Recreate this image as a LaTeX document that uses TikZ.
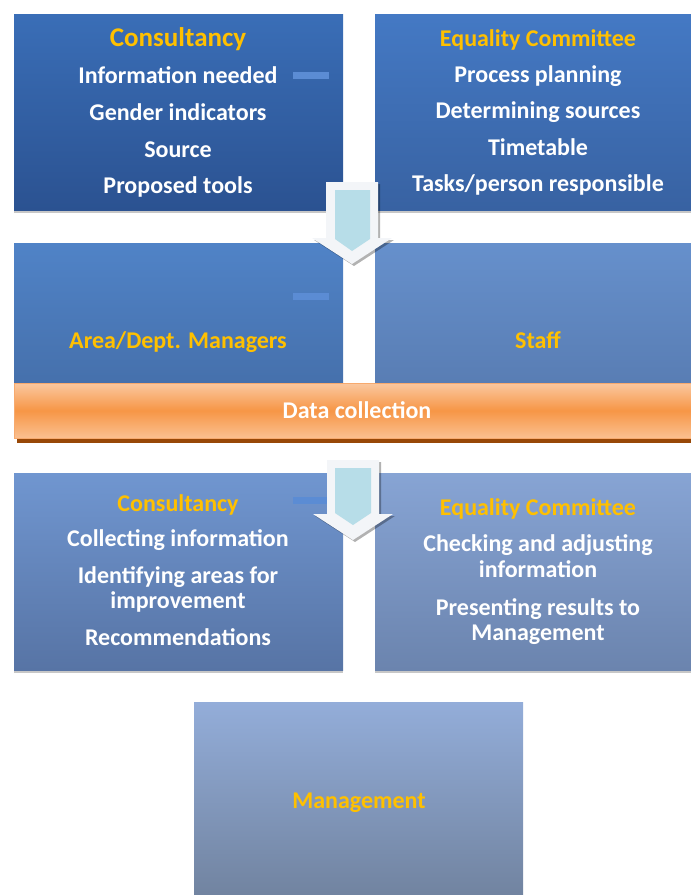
\documentclass[tikz,border=0pt]{standalone}
\usepackage{fontspec}
\setmainfont{Carlito}
\usetikzlibrary{shadows}
\definecolor{gold}{HTML}{FFC000}
\definecolor{dashblue}{HTML}{5B8CD4}
\definecolor{arrowfill}{HTML}{B7DDE8}
\definecolor{arrowrim}{HTML}{F3F5F8}
% panel gradients, top and bottom
\definecolor{pAt}{HTML}{3A6EB7}\definecolor{pAb}{HTML}{2B5291}
\definecolor{pBt}{HTML}{4479C4}\definecolor{pBb}{HTML}{3862A2}
\definecolor{pCt}{HTML}{5083C7}\definecolor{pCb}{HTML}{456FAA}
\definecolor{pDt}{HTML}{6690CC}\definecolor{pDb}{HTML}{587CB2}
\definecolor{pEt}{HTML}{7096D0}\definecolor{pEb}{HTML}{5774A5}
\definecolor{pFt}{HTML}{87A4D4}\definecolor{pFb}{HTML}{6B84AE}
\definecolor{pGt}{HTML}{93ADD9}\definecolor{pGb}{HTML}{70829E}
% orange band
\definecolor{barlight}{HTML}{FAC8A0}
\definecolor{barlow}{HTML}{FAC090}
\definecolor{barmid}{HTML}{F79646}
\definecolor{barrim}{HTML}{F7AA6E}
\definecolor{barbase}{HTML}{984807}
\begin{document}
\begin{tikzpicture}[x=1pt,y=-1pt,
  panel/.style={inner sep=0pt, draw=none,
    drop shadow={shadow xshift=0pt, shadow yshift=-3pt, opacity=0.22, fill=black}},
  line/.style={anchor=base, inner sep=0pt, text=white,
    font=\bfseries\fontsize{24}{27}\selectfont},
  head/.style={anchor=base, inner sep=0pt, text=gold,
    font=\bfseries\fontsize{24}{27}\selectfont},
  bigarrow/.style={fill=arrowrim, drop shadow={shadow xshift=2pt, shadow yshift=-2pt, opacity=0.3, fill=black}},
  arrowcore/.style={fill=arrowfill},
  stub/.style={fill=dashblue}]
\useasboundingbox (0,0) rectangle (691,895);
\clip (0,0) rectangle (691,895);

% --- first row: planning ---
\node[panel, top color=pAt, bottom color=pAb,
  minimum width=329pt, minimum height=196pt] (planC) at (178.5,112) {};
\node[panel, top color=pBt, bottom color=pBb,
  minimum width=325pt, minimum height=196pt] (planE) at (537.5,112) {};
\fill[stub] (293,72) rectangle (329,79);

\node[head, font=\bfseries\fontsize{27}{30}\selectfont] (c1) at (178,46.5) {Consultancy};
\node[line] (c2) at (178,83) {Information needed};
\node[line] (c3) at (178,120) {Gender indicators};
\node[line] (c4) at (178,157) {Source};
\node[line] (c5) at (178,193) {Proposed tools};

\node[head] (e1) at (538,46.5) {Equality Committee};
\node[line] (e2) at (538,82) {Process planning};
\node[line] (e3) at (538,118.5) {Determining sources};
\node[line] (e4) at (538,155) {Timetable};
\node[line] (e5) at (538,191) {Tasks/person responsible};

% --- second row: data collection ---
\node[panel, top color=pCt, bottom color=pCb,
  minimum width=329pt, minimum height=150pt] (mgr) at (178.5,318) {};
\node[panel, top color=pDt, bottom color=pDb,
  minimum width=325pt, minimum height=150pt] (staff) at (537.5,318) {};
\fill[stub] (293,293) rectangle (329,300);
\node[head] (m1) at (178,348.5) {Area/Dept. Managers};
\node[head] (s1) at (538,348.5) {Staff};

\fill[barbase] (17,437) rectangle (700,443);
\node[inner sep=0pt, draw=barrim, line width=1pt,
  top color=barlight, bottom color=barlow, middle color=barmid,
  minimum width=686pt, minimum height=55pt] (bar) at (357,410.5) {};
\node[line] (d1) at (357,418) {Data collection};

% arrow from planning into data collection
\path[bigarrow] (326,182) -- (378,182) -- (378,238) -- (392,238) -- (352,264)
  -- (312,238) -- (326,238) -- cycle;
\fill[arrowcore] (335,190) -- (370,190) -- (370,239) -- (352,251) -- (335,239) -- cycle;

% --- third row: analysis ---
\node[panel, top color=pEt, bottom color=pEb,
  minimum width=329pt, minimum height=197pt] (anaC) at (178.5,571.5) {};
\node[panel, top color=pFt, bottom color=pFb,
  minimum width=325pt, minimum height=197pt] (anaE) at (537.5,571.5) {};
\fill[stub] (293,497) rectangle (329,504);

\node[head] (a1) at (178,511.5) {Consultancy};
\node[line] (a2) at (178,546.5) {Collecting information};
\node[line] (a3) at (178,583) {Identifying areas for};
\node[line] (a4) at (178,608) {improvement};
\node[line] (a5) at (178,645) {Recommendations};

\node[head] (b1) at (538,515) {Equality Committee};
\node[line] (b2) at (538,551.5) {Checking and adjusting};
\node[line] (b3) at (538,577.5) {information};
\node[line] (b4) at (538,615) {Presenting results to};
\node[line] (b5) at (538,640.5) {Management};

% arrow from data collection into analysis
\path[bigarrow] (327,460) -- (379,460) -- (379,514) -- (393,514) -- (353,540)
  -- (313,514) -- (327,514) -- cycle;
\fill[arrowcore] (335,468) -- (371,468) -- (371,513) -- (353,525) -- (335,513) -- cycle;

% --- management ---
\node[panel, top color=pGt, bottom color=pGb,
  minimum width=329pt, minimum height=200pt] (board) at (358.5,802.5) {};
\node[head] (g1) at (359,808) {Management};
\end{tikzpicture}
\end{document}
